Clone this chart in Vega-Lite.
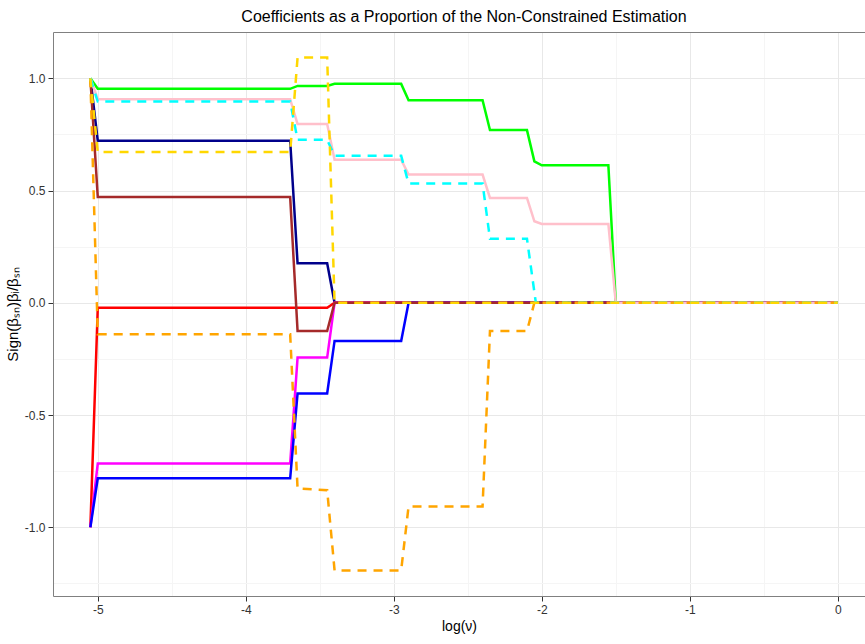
{
  "$schema": "https://vega.github.io/schema/vega-lite/v6.json",
  "autosize": "none",
  "padding": {"left": 53, "top": 32, "right": 0, "bottom": 48},
  "width": 812,
  "height": 564,
  "background": "white",
  "title": {"text": "Coefficients as a Proportion of the Non-Constrained Estimation", "fontSize": 16, "font": "Liberation Sans Narrow, Liberation Sans, Arial", "fontWeight": "normal", "color": "#000000", "anchor": "middle", "dx": 5, "offset": 7},
  "config": {
    "view": {"stroke": null},
    "axis": {"labelFont": "Liberation Sans Narrow, Liberation Sans, Arial", "titleFont": "Liberation Sans, Arial", "labelFontSize": 12, "labelColor": "#333333", "titleFontSize": 14, "titleFontWeight": "normal", "titleColor": "#000000", "tickColor": "#333333", "tickSize": 5, "domainColor": "#808080", "domainWidth": 1}
  },
  "datasets": {
    "solid": [
      {"series": "green", "x": -5.05, "y": 1.0}, {"series": "green", "x": -5.0, "y": 0.953}, {"series": "green", "x": -3.70, "y": 0.953}, {"series": "green", "x": -3.65, "y": 0.966}, {"series": "green", "x": -3.45, "y": 0.966}, {"series": "green", "x": -3.40, "y": 0.975}, {"series": "green", "x": -2.95, "y": 0.975}, {"series": "green", "x": -2.90, "y": 0.902}, {"series": "green", "x": -2.40, "y": 0.902}, {"series": "green", "x": -2.35, "y": 0.769}, {"series": "green", "x": -2.10, "y": 0.769}, {"series": "green", "x": -2.05, "y": 0.630}, {"series": "green", "x": -2.0, "y": 0.612}, {"series": "green", "x": -1.55, "y": 0.612}, {"series": "green", "x": -1.50, "y": 0.0}, {"series": "green", "x": 0.0, "y": 0.0},
      {"series": "navy", "x": -5.05, "y": 1.0}, {"series": "navy", "x": -5.0, "y": 0.722}, {"series": "navy", "x": -3.70, "y": 0.722}, {"series": "navy", "x": -3.65, "y": 0.176}, {"series": "navy", "x": -3.45, "y": 0.176}, {"series": "navy", "x": -3.40, "y": 0.0}, {"series": "navy", "x": 0.0, "y": 0.0},
      {"series": "red", "x": -5.05, "y": -1.0}, {"series": "red", "x": -5.0, "y": -0.022}, {"series": "red", "x": -3.45, "y": -0.022}, {"series": "red", "x": -3.40, "y": 0.0}, {"series": "red", "x": 0.0, "y": 0.0},
      {"series": "magenta", "x": -5.05, "y": -1.0}, {"series": "magenta", "x": -5.0, "y": -0.716}, {"series": "magenta", "x": -3.70, "y": -0.716}, {"series": "magenta", "x": -3.65, "y": -0.244}, {"series": "magenta", "x": -3.45, "y": -0.244}, {"series": "magenta", "x": -3.40, "y": 0.0}, {"series": "magenta", "x": 0.0, "y": 0.0},
      {"series": "blue", "x": -5.05, "y": -1.0}, {"series": "blue", "x": -5.0, "y": -0.782}, {"series": "blue", "x": -3.70, "y": -0.782}, {"series": "blue", "x": -3.65, "y": -0.404}, {"series": "blue", "x": -3.45, "y": -0.404}, {"series": "blue", "x": -3.40, "y": -0.170}, {"series": "blue", "x": -2.95, "y": -0.170}, {"series": "blue", "x": -2.90, "y": 0.0}, {"series": "blue", "x": 0.0, "y": 0.0},
      {"series": "brown", "x": -5.05, "y": 1.0}, {"series": "brown", "x": -5.0, "y": 0.471}, {"series": "brown", "x": -3.70, "y": 0.471}, {"series": "brown", "x": -3.65, "y": -0.126}, {"series": "brown", "x": -3.45, "y": -0.126}, {"series": "brown", "x": -3.40, "y": 0.0}, {"series": "brown", "x": 0.0, "y": 0.0},
      {"series": "pink", "x": -5.05, "y": 1.0}, {"series": "pink", "x": -5.0, "y": 0.907}, {"series": "pink", "x": -3.70, "y": 0.907}, {"series": "pink", "x": -3.65, "y": 0.796}, {"series": "pink", "x": -3.45, "y": 0.796}, {"series": "pink", "x": -3.40, "y": 0.637}, {"series": "pink", "x": -2.95, "y": 0.637}, {"series": "pink", "x": -2.90, "y": 0.571}, {"series": "pink", "x": -2.40, "y": 0.571}, {"series": "pink", "x": -2.35, "y": 0.467}, {"series": "pink", "x": -2.10, "y": 0.467}, {"series": "pink", "x": -2.05, "y": 0.363}, {"series": "pink", "x": -2.0, "y": 0.351}, {"series": "pink", "x": -1.55, "y": 0.351}, {"series": "pink", "x": -1.50, "y": 0.0}, {"series": "pink", "x": 0.0, "y": 0.0}
    ],
    "dashed": [
      {"series": "orange", "x": -5.05, "y": 1.0}, {"series": "orange", "x": -5.0, "y": -0.140}, {"series": "orange", "x": -3.70, "y": -0.140}, {"series": "orange", "x": -3.65, "y": -0.827}, {"series": "orange", "x": -3.45, "y": -0.835}, {"series": "orange", "x": -3.40, "y": -1.192}, {"series": "orange", "x": -2.95, "y": -1.192}, {"series": "orange", "x": -2.90, "y": -0.907}, {"series": "orange", "x": -2.40, "y": -0.907}, {"series": "orange", "x": -2.35, "y": -0.126}, {"series": "orange", "x": -2.10, "y": -0.126}, {"series": "orange", "x": -2.05, "y": 0.0}, {"series": "orange", "x": 0.0, "y": 0.0},
      {"series": "cyan", "x": -5.05, "y": 1.0}, {"series": "cyan", "x": -5.0, "y": 0.896}, {"series": "cyan", "x": -3.70, "y": 0.896}, {"series": "cyan", "x": -3.65, "y": 0.726}, {"series": "cyan", "x": -3.45, "y": 0.726}, {"series": "cyan", "x": -3.40, "y": 0.655}, {"series": "cyan", "x": -2.95, "y": 0.655}, {"series": "cyan", "x": -2.90, "y": 0.531}, {"series": "cyan", "x": -2.40, "y": 0.531}, {"series": "cyan", "x": -2.35, "y": 0.285}, {"series": "cyan", "x": -2.10, "y": 0.285}, {"series": "cyan", "x": -2.04, "y": 0.0}, {"series": "cyan", "x": 0.0, "y": 0.0},
      {"series": "gold", "x": -5.05, "y": 1.0}, {"series": "gold", "x": -5.0, "y": 0.671}, {"series": "gold", "x": -3.70, "y": 0.671}, {"series": "gold", "x": -3.65, "y": 1.092}, {"series": "gold", "x": -3.45, "y": 1.092}, {"series": "gold", "x": -3.40, "y": 0.0}, {"series": "gold", "x": 0.0, "y": 0.0}
    ]
  },
  "layer": [
    {
      "data": {"name": "solid"},
      "mark": {"type": "line", "strokeWidth": 2.5, "clip": true},
      "encoding": {
        "x": {"field": "x", "type": "quantitative", "scale": {"domain": [-5.3025, 0.184], "nice": false, "zero": false},
          "axis": {"title": "log(ν)", "values": [-5, -4.5, -4, -3.5, -3, -2.5, -2, -1.5, -1, -0.5, 0], "labelExpr": "datum.value % 1 === 0 ? replace(format(datum.value, 'd'), '−', '-') : ''", "gridColor": {"condition": {"test": "datum.value % 1 !== 0", "value": "#F5F5F5"}, "value": "#E8E8E8"}, "tickOpacity": {"condition": {"test": "datum.value % 1 !== 0", "value": 0}, "value": 1}, "labelPadding": 3, "titlePadding": 4, "domain": true}},
        "y": {"field": "y", "type": "quantitative", "scale": {"domain": [-1.306, 1.206], "nice": false, "zero": false},
          "axis": {"title": "Sign(βₛₙ)βᵢ/βₛₙ", "titleFontSize": 15, "values": [-1.25, -1, -0.75, -0.5, -0.25, 0, 0.25, 0.5, 0.75, 1], "labelExpr": "datum.value % 0.5 === 0 ? replace(format(datum.value, '.1f'), '−', '-') : ''", "gridColor": {"condition": {"test": "datum.value % 0.5 !== 0", "value": "#F5F5F5"}, "value": "#E8E8E8"}, "tickOpacity": {"condition": {"test": "datum.value % 0.5 !== 0", "value": 0}, "value": 1}, "labelPadding": 3, "titlePadding": 4}},
        "color": {"field": "series", "type": "nominal", "legend": null,
          "scale": {"domain": ["green", "navy", "red", "magenta", "blue", "brown", "pink", "orange", "cyan", "gold"], "range": ["#00FF00", "#00008B", "#FF0000", "#FF00FF", "#0000FF", "#A52A2A", "#FFC0CB", "#FFA500", "#00FFFF", "#FFD700"]}}
      }
    },
    {
      "data": {"name": "dashed"},
      "mark": {"type": "line", "strokeWidth": 2.5, "strokeDash": [9, 7], "clip": true},
      "encoding": {
        "x": {"field": "x", "type": "quantitative", "axis": {"orient": "top", "title": null, "labels": false, "ticks": false, "grid": false, "domain": true}},
        "y": {"field": "y", "type": "quantitative"},
        "color": {"field": "series", "type": "nominal", "legend": null}
      }
    }
  ],
  "resolve": {"axis": {"x": "independent"}}
}
